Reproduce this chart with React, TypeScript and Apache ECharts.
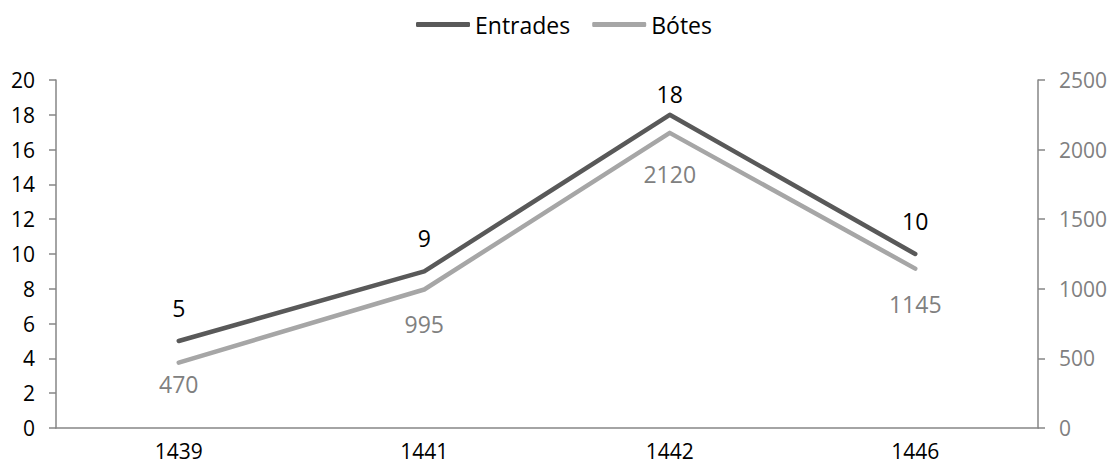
import React, { useEffect, useRef } from "react";
import * as echarts from "echarts";

const categories = ["1439", "1441", "1442", "1446"];
const entrades = [5, 9, 18, 10];
const botes = [470, 995, 2120, 1145];
const entradesLabelDist = [22, 22, 9, 22];
const botesLabelDist = [10, 23, 30, 24];
const leftTicks = { min: 0, max: 20, interval: 2 };
const rightTicks = { min: 0, max: 2500, interval: 500 };

const FONT = "Open Sans";
const DARK = "#595959";
const LIGHT = "#A6A6A6";
const AXIS = "#868686";

export default function App() {
  const ref = useRef<HTMLDivElement>(null);
  useEffect(() => {
    document.body.style.margin = "0";
    const chart = echarts.init(ref.current!, null, { renderer: "svg" });
    chart.setOption({
      animation: false,
      textStyle: { fontFamily: FONT },
      legend: {
        left: 411,
        top: 8,
        itemWidth: 54,
        itemHeight: 5,
        itemGap: 22,
        icon: "roundRect",
        textStyle: { fontFamily: FONT, fontSize: 23, color: "#000", lineHeight: 23 },
        data: ["Entrades", "Bótes"],
      },
      grid: { left: 56, right: 74, top: 80, bottom: 38 },
      xAxis: {
        type: "category",
        data: categories,
        boundaryGap: true,
        axisLine: { lineStyle: { color: AXIS, width: 1.5 } },
        axisTick: { show: false },
        axisLabel: { fontFamily: FONT, fontSize: 21, color: "#000", margin: 12 },
      },
      yAxis: [
        {
          type: "value",
          position: "left",
          ...leftTicks,
          splitLine: { show: false },
          axisLine: { show: true, lineStyle: { color: AXIS, width: 1.5 } },
          axisTick: { show: true, length: 7, lineStyle: { color: AXIS, width: 1.5 } },
          axisLabel: { fontFamily: FONT, fontSize: 21, color: "#000", margin: 21 },
        },
        {
          type: "value",
          position: "right",
          ...rightTicks,
          splitLine: { show: false },
          axisLine: { show: true, lineStyle: { color: AXIS, width: 1.5 } },
          axisTick: { show: true, length: 7, lineStyle: { color: AXIS, width: 1.5 } },
          axisLabel: {
            fontFamily: FONT,
            fontSize: 21,
            color: "#808080",
            margin: 21,
            formatter: (v: number) => String(v),
          },
        },
      ],
      series: [
        {
          name: "Entrades",
          type: "line",
          yAxisIndex: 0,
          symbol: "circle",
          symbolSize: 0,
          showSymbol: true,
          color: DARK,
          lineStyle: { color: DARK, width: 4.5, cap: "round", join: "round" },
          data: entrades.map((v, i) => ({
            value: v,
            label: { distance: entradesLabelDist[i] },
          })),
          label: {
            show: true,
            position: "top",
            fontFamily: FONT,
            fontSize: 23,
            lineHeight: 23,
            color: "#000",
          },
        },
        {
          name: "Bótes",
          type: "line",
          yAxisIndex: 1,
          symbol: "circle",
          symbolSize: 0,
          showSymbol: true,
          color: LIGHT,
          lineStyle: { color: LIGHT, width: 4.5, cap: "round", join: "round" },
          data: botes.map((v, i) => ({
            value: v,
            label: { distance: botesLabelDist[i] },
          })),
          label: {
            show: true,
            position: "bottom",
            fontFamily: FONT,
            fontSize: 23,
            lineHeight: 23,
            color: "#808080",
          },
        },
      ],
    });
    return () => chart.dispose();
  }, []);
  return <div ref={ref} style={{ width: 1112, height: 466 }} />;
}
